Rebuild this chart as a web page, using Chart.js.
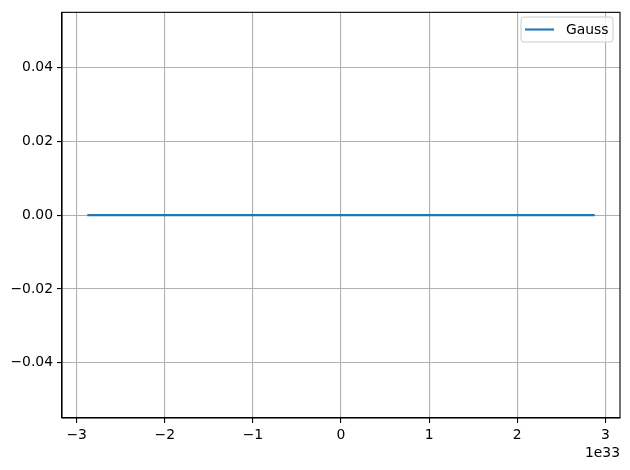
<!DOCTYPE html>
<html>
<head>
<meta charset="utf-8">
<script src="https://cdn.jsdelivr.net/npm/chart.js@4/dist/chart.umd.min.js"></script>
<style>
  html, body { margin: 0; padding: 0; background: #fff; }
</style>
</head>
<body>
<canvas id="myChart" width="630" height="470"></canvas>
<script>
// data, x in raw units (offset 1e33 shown under the axis)
const xValues = [-2.88e33, -1.44e33, 0, 1.44e33, 2.88e33];
const yValues = [0, 0, 0, 0, 0];
const seriesName = 'Gauss';
const xTicks = [-3, -2, -1, 0, 1, 2, 3];
const yTicks = [-0.04, -0.02, 0.00, 0.02, 0.04];
const xOffset = 1e33;

const FONT = 'DejaVu Sans';
const ctx = document.getElementById('myChart').getContext('2d');

function minusSign(s) {
    return s.replace('-', '\u2212');
}

// top/right spines, offset text and legend box
const extras = {
    id: 'extras',
    afterDraw(chart) {
        const c = chart.ctx;
        const a = chart.chartArea;
        c.save();
        c.strokeStyle = '#000';
        c.lineWidth = 1.1;
        c.strokeRect(a.left, a.top, a.right - a.left, a.bottom - a.top);

        c.fillStyle = '#000';
        c.font = '13.9px "' + FONT + '"';
        c.textAlign = 'right';
        c.textBaseline = 'middle';
        c.fillText('1e' + Math.round(Math.log10(xOffset)), a.right, 453);

        // legend
        const ds = chart.data.datasets[0];
        const bx = 521, by = 17, bw = 92, bh = 25, r = 3;
        c.beginPath();
        c.moveTo(bx + r, by);
        c.arcTo(bx + bw, by, bx + bw, by + bh, r);
        c.arcTo(bx + bw, by + bh, bx, by + bh, r);
        c.arcTo(bx, by + bh, bx, by, r);
        c.arcTo(bx, by, bx + bw, by, r);
        c.closePath();
        c.fillStyle = 'rgba(255,255,255,0.8)';
        c.fill();
        c.strokeStyle = '#cccccc';
        c.lineWidth = 1;
        c.stroke();

        c.strokeStyle = ds.borderColor;
        c.lineWidth = ds.borderWidth;
        c.beginPath();
        c.moveTo(525, 29.5);
        c.lineTo(554, 29.5);
        c.stroke();

        c.fillStyle = '#000';
        c.textAlign = 'left';
        c.fillText(ds.label, 566, 30);
        c.restore();
    }
};

new Chart(ctx, {
    type: 'line',
    data: {
        datasets: [{
            label: seriesName,
            data: xValues.map((x, i) => ({x: x, y: yValues[i]})),
            borderColor: '#1f77b4',
            borderWidth: 2.1,
            pointRadius: 0,
            tension: 0,
            fill: false
        }]
    },
    options: {
        responsive: false,
        animation: false,
        devicePixelRatio: 1,
        layout: { padding: { top: 10.5, right: 10, left: 0, bottom: 0 } },
        plugins: {
            legend: { display: false },
            tooltip: { enabled: false }
        },
        scales: {
            x: {
                type: 'linear',
                min: -3.1667 * xOffset,
                max: 3.1667 * xOffset,
                afterFit: s => { s.height = 52; },
                afterBuildTicks: s => { s.ticks = xTicks.map(v => ({value: v * xOffset})); },
                ticks: {
                    includeBounds: false,
                    autoSkip: false,
                    maxRotation: 0,
                    padding: 4,
                    color: '#000',
                    font: { family: FONT, size: 13.9 },
                    callback: v => minusSign(String(Math.round(v / xOffset)))
                },
                grid: { color: '#b0b0b0', lineWidth: 1.1, tickColor: '#000', tickLength: 5 },
                border: { color: '#000', width: 1.1 }
            },
            y: {
                min: -0.055,
                max: 0.055,
                afterFit: s => { s.width = 62; },
                afterBuildTicks: s => { s.ticks = yTicks.map(v => ({value: v})); },
                ticks: {
                    includeBounds: false,
                    padding: 4,
                    color: '#000',
                    font: { family: FONT, size: 13.9 },
                    callback: v => minusSign((Math.round(v * 100) / 100 + 0).toFixed(2))
                },
                grid: { color: '#b0b0b0', lineWidth: 1.1, tickColor: '#000', tickLength: 5 },
                border: { color: '#000', width: 1.1 }
            }
        }
    },
    plugins: [extras]
});
</script>
</body>
</html>
